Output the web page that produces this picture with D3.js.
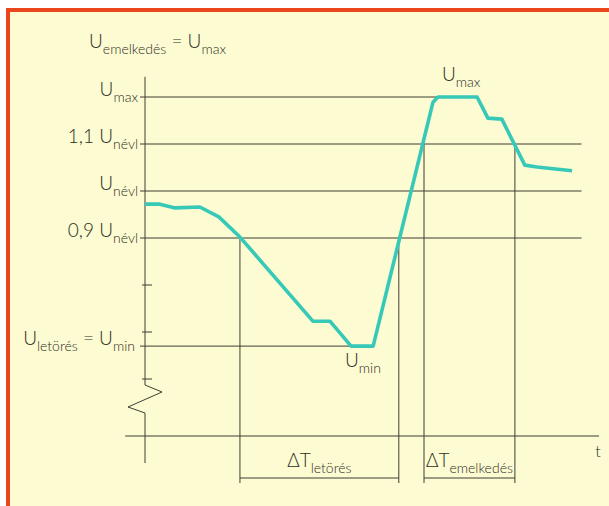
<!DOCTYPE html>
<html><head><meta charset="utf-8">
<script src="https://cdn.jsdelivr.net/npm/d3@7/dist/d3.min.js"></script>
<style>
html,body{margin:0;padding:0;background:#fff;}
svg{display:block;}
text{font-family:Lato,"Open Sans",sans-serif;fill:#2e2e28;font-weight:300;}
</style></head>
<body>
<script>
// ---- data ----
// time (arbitrary units) and voltage (relative to U_névl) of the curve
const curveTime  = [0, 3.3, 6.7, 12.2, 16.4, 21.1, 37.3, 41.1, 45.8, 50.7, 64.0, 65.1, 73.8, 76.2, 79.3, 84.4, 87.1, 94.9];
const curveVolt  = [0.972, 0.972, 0.964, 0.966, 0.945, 0.902, 0.723, 0.723, 0.670, 0.670, 1.189, 1.200, 1.200, 1.155, 1.153, 1.055, 1.051, 1.043];
// reference levels
const levelValues = [1.2, 1.1, 1.0, 0.9, 0.67];
const levelPrefix = ["", "1,1 ", "", "0,9 ", ""];
const levelMain   = ["U", "U", "U", "U", "U"];
const levelSub    = ["max", "névl", "névl", "névl", "letörés"];
const levelEnd    = [65.3, 97, 97, 97, 45.8];   // time where each level line stops
const minorTicks  = [0.8, 0.7, 0.6];
// crossing times (drop lines) and the levels they start from
const dropTimes  = [21.1, 56.4, 62.0, 82.2];
const dropLevels = [0.9, 0.9, 1.1, 1.1];
const intervalLabels = [
  {from: 21.1, to: 56.4, sub: "letörés"},
  {from: 62.0, to: 82.2, sub: "emelkedés"}
];

// ---- layout ----
const W = 609, H = 506;
const svg = d3.select("body").append("svg").attr("width", W).attr("height", H);
svg.append("rect").attr("x",0).attr("y",0).attr("width",W).attr("height",H).attr("fill","#fff");
svg.append("rect").attr("x",6).attr("y",8).attr("width",W-6).attr("height",H-8).attr("fill","#e9461e");
svg.append("rect").attr("x",10).attr("y",12).attr("width",W-10).attr("height",H-12).attr("fill","#fdfbd1");

const x = d3.scaleLinear().domain([0, 100]).range([145, 595]);
const y = d3.scaleLinear().domain([0.9, 1.1]).range([238, 144]);

const lineCol = "#3f3f35";
const g = svg.append("g").attr("stroke", lineCol).attr("stroke-width", 1).attr("fill", "none");

// vertical axis with break
const x0 = x(0);
const timeAxisY = 436, breakTop = 385, breakBottom = 413, axisBottom = 463;
g.append("path").attr("d", d3.line()([
  [x0, y(1.243)], [x0, breakTop], [x0 + 17, breakTop + 7], [x0 - 17, breakTop + 22], [x0, breakBottom], [x0, axisBottom]
]));
// time axis
g.append("line").attr("x1", x(-4.4)).attr("x2", x(100.9)).attr("y1", timeAxisY).attr("y2", timeAxisY);

// level lines
levelValues.forEach((v, i) => {
  g.append("line").attr("x1", x0 - 5).attr("x2", x(levelEnd[i]))
    .attr("y1", y(v)).attr("y2", y(v));
});
// minor ticks
minorTicks.forEach(v => {
  g.append("line").attr("x1", x0 - 3).attr("x2", x0 + 7).attr("y1", y(v)).attr("y2", y(v));
});

// drop lines and brackets
const bracketY = 478, dropBottom = 483;
dropTimes.forEach((t, i) => {
  g.append("line").attr("x1", x(t)).attr("x2", x(t)).attr("y1", y(dropLevels[i])).attr("y2", dropBottom);
});
intervalLabels.forEach(d => {
  g.append("line").attr("x1", x(d.from)).attr("x2", x(d.to)).attr("y1", bracketY).attr("y2", bracketY);
});

// curve
svg.append("path")
  .datum(curveTime.map((t, i) => [t, curveVolt[i]]))
  .attr("fill", "none").attr("stroke", "#36c9b8").attr("stroke-width", 3.6)
  .attr("stroke-linejoin", "round").attr("stroke-linecap", "butt")
  .attr("d", d3.line().x(d => x(d[0])).y(d => y(d[1])));

// ---- text ----
const MAIN = 19, SUB = 14;
function label(px, py, parts, anchor) {
  const t = svg.append("text").attr("x", px).attr("y", py).attr("text-anchor", anchor || "start")
    .attr("font-size", MAIN);
  let shifted = false;
  parts.forEach(p => {
    const s = t.append("tspan").text(p.text);
    if (p.sub) { s.attr("font-size", SUB).attr("dy", shifted ? 0 : 6); shifted = true; }
    else { if (shifted) s.attr("dy", -6); shifted = false; s.attr("font-size", MAIN); }
  });
  return t;
}

// axis labels
levelValues.forEach((v, i) => {
  if (i === 4) {
    label(x0 - 10, y(v) - 1, [{text: "U"}, {text: "letörés", sub: true}, {text: " = U"}, {text: "min", sub: true}], "end");
  } else {
    label(x0 - 7, y(v) - 1, [{text: levelPrefix[i] + levelMain[i]}, {text: levelSub[i], sub: true}], "end");
  }
});

// title
label(89, 48, [{text: "U"}, {text: "emelkedés", sub: true}, {text: " = U"}, {text: "max", sub: true}]);
// curve annotations
label(442, 81, [{text: "U"}, {text: "max", sub: true}]);
label(345, 367, [{text: "U"}, {text: "min", sub: true}]);
// interval labels
intervalLabels.forEach(d => {
  label((x(d.from) + x(d.to)) / 2, 467, [{text: "ΔT"}, {text: d.sub, sub: true}], "middle");
});
// t label
svg.append("text").attr("x", 598).attr("y", 457).attr("font-size", 16).attr("text-anchor", "middle").text("t");
</script>
</body></html>
